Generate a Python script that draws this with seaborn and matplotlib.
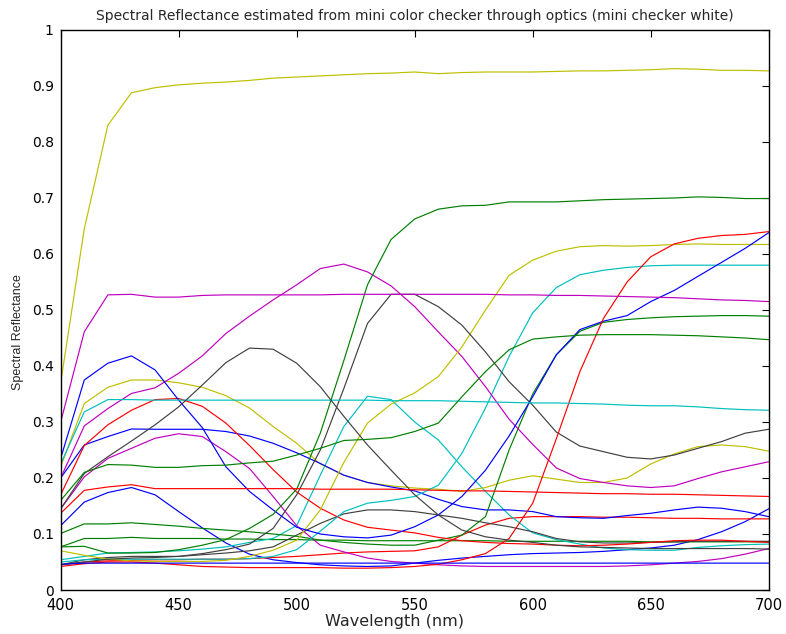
import matplotlib
matplotlib.use("Agg")
import matplotlib.pyplot as plt
import pandas as pd
import seaborn as sns

wavelength = [400, 410, 420, 430, 440, 450, 460, 470, 480, 490, 500, 510, 520, 530, 540, 550,
              560, 570, 580, 590, 600, 610, 620, 630, 640, 650, 660, 670, 680, 690, 700]

# blue curves
blue_a = [0.235, 0.375, 0.405, 0.418, 0.393, 0.339, 0.29, 0.22, 0.176, 0.143, 0.112, 0.1, 0.095, 0.093, 0.098, 0.113,
          0.134, 0.167, 0.214, 0.275, 0.345, 0.42, 0.465, 0.48, 0.49, 0.515, 0.535, 0.56, 0.585, 0.61, 0.638]
blue_b = [0.2, 0.259, 0.274, 0.2875, 0.287, 0.287, 0.287, 0.283, 0.275, 0.262, 0.245, 0.226, 0.205, 0.192, 0.184, 0.177,
          0.162, 0.149, 0.143, 0.143, 0.14, 0.131, 0.129, 0.128, 0.133, 0.137, 0.143, 0.148, 0.146, 0.14, 0.131]
blue_c = [0.115, 0.157, 0.174, 0.183, 0.17, 0.14, 0.111, 0.084, 0.064, 0.054, 0.049, 0.045, 0.043, 0.042, 0.043, 0.048,
          0.053, 0.057, 0.06, 0.063, 0.065, 0.066, 0.067, 0.069, 0.072, 0.075, 0.08, 0.09, 0.104, 0.122, 0.145]
blue_d = [0.046, 0.048, 0.048, 0.048, 0.048, 0.048, 0.048, 0.048, 0.048, 0.048, 0.048, 0.048, 0.048, 0.048, 0.048, 0.048,
          0.048, 0.048, 0.048, 0.048, 0.048, 0.048, 0.048, 0.048, 0.048, 0.048, 0.048, 0.048, 0.048, 0.048, 0.048]
# green curves
green_a = [0.077, 0.078, 0.066, 0.066, 0.067, 0.072, 0.08, 0.09, 0.11, 0.135, 0.18, 0.28, 0.41, 0.545, 0.626, 0.6625,
           0.68, 0.686, 0.687, 0.693, 0.693, 0.693, 0.695, 0.697, 0.698, 0.699, 0.7, 0.702, 0.701, 0.699, 0.699]
green_b = [0.16, 0.21, 0.224, 0.223, 0.219, 0.219, 0.222, 0.223, 0.227, 0.23, 0.241, 0.253, 0.267, 0.269, 0.272, 0.283,
           0.298, 0.345, 0.39, 0.429, 0.448, 0.452, 0.455, 0.456, 0.456, 0.456, 0.455, 0.454, 0.452, 0.45, 0.447]
green_c = [0.101, 0.118, 0.118, 0.12, 0.117, 0.114, 0.11, 0.107, 0.104, 0.1, 0.096, 0.089, 0.085, 0.082, 0.08, 0.08,
           0.089, 0.098, 0.131, 0.25, 0.35, 0.42, 0.462, 0.478, 0.483, 0.486, 0.488, 0.489, 0.49, 0.49, 0.489]
green_d = [0.077, 0.092, 0.092, 0.094, 0.092, 0.092, 0.092, 0.091, 0.091, 0.09, 0.09, 0.089, 0.089, 0.088, 0.088, 0.088,
           0.088, 0.088, 0.088, 0.087, 0.087, 0.087, 0.087, 0.087, 0.087, 0.086, 0.086, 0.086, 0.086, 0.086, 0.086]
# red curves
red_a = [0.042, 0.047, 0.05, 0.05, 0.048, 0.045, 0.042, 0.041, 0.04, 0.04, 0.04, 0.04, 0.039, 0.039, 0.04, 0.042,
         0.046, 0.054, 0.065, 0.092, 0.155, 0.27, 0.39, 0.485, 0.55, 0.595, 0.618, 0.628, 0.633, 0.635, 0.64]
red_b = [0.17, 0.258, 0.295, 0.321, 0.34, 0.342, 0.328, 0.298, 0.258, 0.215, 0.175, 0.146, 0.125, 0.112, 0.107, 0.102,
         0.094, 0.088, 0.085, 0.083, 0.082, 0.08, 0.079, 0.08, 0.082, 0.085, 0.088, 0.089, 0.089, 0.087, 0.085]
red_c = [0.137, 0.178, 0.184, 0.188, 0.181, 0.181, 0.181, 0.181, 0.181, 0.181, 0.181, 0.18, 0.18, 0.18, 0.18, 0.179,
         0.178, 0.177, 0.177, 0.176, 0.175, 0.174, 0.173, 0.172, 0.172, 0.171, 0.171, 0.17, 0.169, 0.168, 0.167]
red_d = [0.045, 0.05, 0.052, 0.053, 0.054, 0.054, 0.055, 0.055, 0.056, 0.058, 0.06, 0.063, 0.066, 0.068, 0.069, 0.07,
         0.077, 0.098, 0.116, 0.128, 0.131, 0.131, 0.131, 0.13, 0.13, 0.129, 0.128, 0.128, 0.127, 0.127, 0.127]
# cyan curves
cyan_a = [0.225, 0.318, 0.34, 0.34, 0.339, 0.339, 0.339, 0.339, 0.339, 0.339, 0.339, 0.339, 0.339, 0.339, 0.338, 0.338,
          0.338, 0.337, 0.336, 0.335, 0.334, 0.334, 0.333, 0.332, 0.33, 0.329, 0.329, 0.327, 0.324, 0.322, 0.321]
cyan_b = [0.054, 0.06, 0.066, 0.067, 0.068, 0.07, 0.073, 0.077, 0.085, 0.092, 0.115, 0.205, 0.292, 0.346, 0.34, 0.3,
          0.268, 0.22, 0.176, 0.134, 0.102, 0.09, 0.082, 0.075, 0.072, 0.071, 0.071, 0.076, 0.079, 0.081, 0.082]
cyan_c = [0.05, 0.054, 0.055, 0.055, 0.055, 0.055, 0.055, 0.055, 0.056, 0.06, 0.072, 0.105, 0.14, 0.155, 0.16, 0.167,
          0.187, 0.244, 0.325, 0.417, 0.495, 0.54, 0.563, 0.571, 0.576, 0.579, 0.58, 0.58, 0.58, 0.58, 0.58]
# magenta curves
magenta_a = [0.30, 0.461, 0.527, 0.528, 0.523, 0.523, 0.526, 0.527, 0.527, 0.527, 0.527, 0.527, 0.528, 0.528, 0.528, 0.528,
             0.528, 0.528, 0.528, 0.527, 0.527, 0.526, 0.526, 0.525, 0.524, 0.523, 0.522, 0.52, 0.518, 0.517, 0.515]
magenta_b = [0.2, 0.293, 0.324, 0.351, 0.361, 0.387, 0.418, 0.458, 0.489, 0.518, 0.545, 0.574, 0.582, 0.568, 0.543, 0.506,
             0.461, 0.417, 0.363, 0.305, 0.26, 0.218, 0.199, 0.192, 0.186, 0.183, 0.186, 0.199, 0.211, 0.22, 0.229]
magenta_c = [0.145, 0.202, 0.235, 0.253, 0.271, 0.279, 0.274, 0.247, 0.217, 0.167, 0.115, 0.08, 0.068, 0.057, 0.051, 0.048,
             0.045, 0.043, 0.042, 0.042, 0.042, 0.042, 0.042, 0.042, 0.043, 0.045, 0.048, 0.051, 0.056, 0.064, 0.074]
# yellow curves
yellow_a = [0.37, 0.645, 0.83, 0.888, 0.897, 0.902, 0.905, 0.907, 0.91, 0.914, 0.916, 0.918, 0.92, 0.922, 0.923, 0.925,
            0.922, 0.924, 0.925, 0.925, 0.925, 0.926, 0.927, 0.927, 0.928, 0.929, 0.931, 0.93, 0.928, 0.928, 0.927]
yellow_b = [0.22, 0.333, 0.362, 0.375, 0.375, 0.37, 0.362, 0.347, 0.325, 0.292, 0.262, 0.225, 0.205, 0.192, 0.186, 0.182,
            0.18, 0.176, 0.183, 0.196, 0.204, 0.198, 0.192, 0.192, 0.2, 0.225, 0.243, 0.256, 0.259, 0.256, 0.248]
yellow_c = [0.07, 0.062, 0.055, 0.052, 0.051, 0.051, 0.051, 0.053, 0.06, 0.071, 0.089, 0.143, 0.228, 0.298, 0.332, 0.352,
            0.381, 0.434, 0.5, 0.562, 0.589, 0.605, 0.613, 0.615, 0.614, 0.615, 0.617, 0.618, 0.617, 0.617, 0.617]
# black curves
black_a = [0.145, 0.208, 0.238, 0.266, 0.295, 0.327, 0.366, 0.406, 0.432, 0.43, 0.405, 0.363, 0.31, 0.259, 0.214, 0.17,
           0.134, 0.107, 0.095, 0.089, 0.085, 0.08, 0.077, 0.076, 0.075, 0.074, 0.074, 0.074, 0.074, 0.074, 0.073]
black_b = [0.045, 0.05, 0.055, 0.057, 0.058, 0.06, 0.065, 0.072, 0.082, 0.11, 0.17, 0.25, 0.36, 0.476, 0.528, 0.528,
           0.506, 0.473, 0.425, 0.372, 0.33, 0.282, 0.257, 0.247, 0.237, 0.234, 0.241, 0.253, 0.265, 0.28, 0.287]
black_c = [0.045, 0.054, 0.058, 0.06, 0.06, 0.06, 0.063, 0.066, 0.07, 0.077, 0.098, 0.119, 0.136, 0.143, 0.143, 0.14,
           0.134, 0.128, 0.12, 0.113, 0.104, 0.092, 0.086, 0.084, 0.084, 0.085, 0.086, 0.087, 0.087, 0.087, 0.087]

# drawing order follows MATLAB's colour cycle b g r c m y k
series = [
    ("p01", blue_c, "b"), ("p02", green_d, "g"), ("p03", red_d, "r"), ("p04", cyan_b, "c"),
    ("p05", magenta_c, "m"), ("p06", yellow_b, "y"), ("p07", black_c, "k"),
    ("p08", blue_b, "b"), ("p09", green_c, "g"), ("p10", red_b, "r"), ("p11", cyan_c, "c"),
    ("p12", magenta_b, "m"), ("p13", yellow_c, "y"), ("p14", black_b, "k"),
    ("p15", blue_a, "b"), ("p16", green_a, "g"), ("p17", red_a, "r"), ("p18", cyan_a, "c"),
    ("p19", magenta_a, "m"), ("p20", yellow_a, "y"), ("p21", black_a, "k"),
    ("p22", blue_d, "b"), ("p23", green_b, "g"), ("p24", red_c, "r"),
]
matlab_colors = {"b": (0, 0, 1), "g": (0, 0.5, 0), "r": (1, 0, 0), "c": (0, 0.75, 0.75),
                 "m": (0.75, 0, 0.75), "y": (0.75, 0.75, 0), "k": (0.25, 0.25, 0.25)}

rows = []
for name, vals, _ in series:
    for w, v in zip(wavelength, vals):
        rows.append({"wavelength": w, "reflectance": v, "patch": name})
df = pd.DataFrame(rows)
palette = {name: matlab_colors[c] for name, _, c in series}
order = [name for name, _, _ in series]

sns.set_style("white")
plt.rcParams["font.family"] = ["DejaVu Sans"]

fig = plt.figure(figsize=(7.86, 6.34), dpi=100)
ax = fig.add_axes([0.0772, 0.0694, 0.9008, 0.8833])
sns.lineplot(data=df, x="wavelength", y="reflectance", hue="patch", hue_order=order,
             palette=palette, estimator=None, sort=False, legend=False, linewidth=0.85, ax=ax)

ax.set_xlim(400, 700)
ax.set_ylim(0, 1)
ax.set_xticks([400, 450, 500, 550, 600, 650, 700])
yt = [0, 0.1, 0.2, 0.3, 0.4, 0.5, 0.6, 0.7, 0.8, 0.9, 1]
ax.set_yticks(yt)
ax.set_yticklabels(["0", "0.1", "0.2", "0.3", "0.4", "0.5", "0.6", "0.7", "0.8", "0.9", "1"])
ax.tick_params(axis="both", direction="in", top=True, right=True, length=5, width=0.8,
               colors="black")
ax.tick_params(axis="x", pad=6, labelsize=10.5)
ax.tick_params(axis="y", pad=5, labelsize=10)
for s in ax.spines.values():
    s.set_color("black")
    s.set_linewidth(1.0)
ax.set_xlabel("Wavelength (nm)", fontsize=11.5)
ax.xaxis.set_label_coords(0.472, -0.042)
ax.set_ylabel("Spectral Reflectance", fontsize=9, family="Liberation Sans")
ax.yaxis.set_label_coords(-0.052, 0.46)
ax.set_title("Spectral Reflectance estimated from mini color checker through optics (mini checker white)",
             fontsize=10, pad=7)

fig.savefig("out.png", dpi=100)
